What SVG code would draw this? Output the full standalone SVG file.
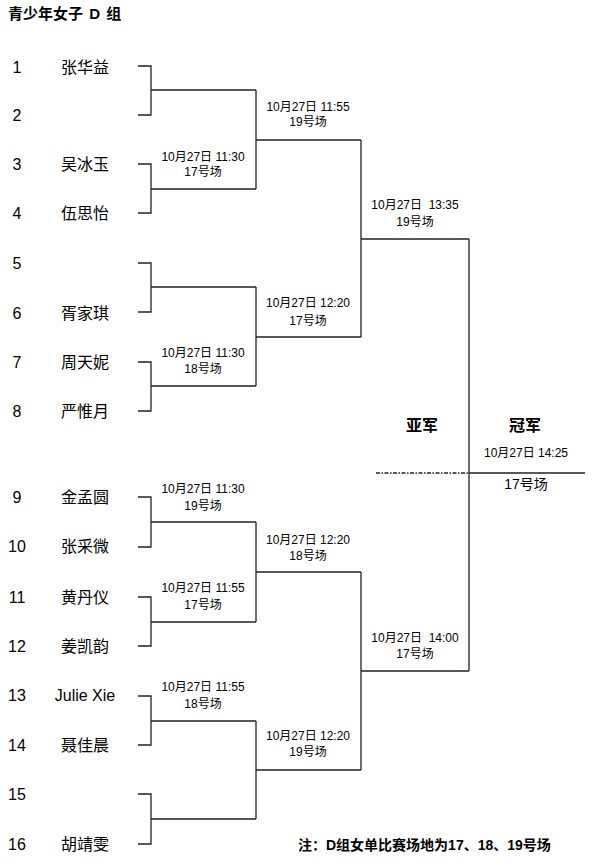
<svg xmlns="http://www.w3.org/2000/svg" width="594" height="867" viewBox="0 0 594 867">
<style>
text{font-family:"Liberation Sans","Noto Sans CJK SC",sans-serif;fill:#000}
.t{font-size:14px;font-weight:bold}
.n{font-size:16px;text-anchor:middle}
.m{font-size:12px;text-anchor:middle;white-space:pre}
.b{font-size:16px;font-weight:bold;text-anchor:middle}
.line{fill:none;stroke:#222;stroke-width:1.3}
.dash{fill:none;stroke:#222;stroke-width:1.3;stroke-dasharray:4 1.5 1.5 1.5}
</style>
<rect width="594" height="867" fill="#fff"/>
<g id="title"><text class="t" x="8" y="19" style="font-size:15px;word-spacing:2px">青少年女子 D 组</text></g>

<g id="connectors">
<path class="line" d="M138,66H151V115H138M151,90H256"/>
<path class="line" d="M138,164H151V213H138M151,189H256"/>
<path class="line" d="M138,263H151V312H138M151,287H256"/>
<path class="line" d="M138,362H151V411H138M151,386H256"/>
<path class="line" d="M138,497H151V547H138M151,522H256"/>
<path class="line" d="M138,597H151V646H138M151,622H256"/>
<path class="line" d="M138,696H151V745H138M151,721H256"/>
<path class="line" d="M138,794H151V844H138M151,819H256"/>
<path class="line" d="M256,90V189M256,140H361"/>
<path class="line" d="M256,287V386M256,337H361"/>
<path class="line" d="M256,522V622M256,572H361"/>
<path class="line" d="M256,721V819M256,770H361"/>
<path class="line" d="M361,140V337M361,239H469"/>
<path class="line" d="M361,572V770M361,671H469"/>
<path class="line" d="M469,239V671M469,473H585"/>
<path class="dash" d="M376,473H469"/>
</g>

<g id="p1"><text class="n" x="17" y="73">1</text><text class="n" x="85" y="73">张华益</text></g>
<g id="p2"><text class="n" x="17" y="121">2</text></g>
<g id="p3"><text class="n" x="17" y="170">3</text><text class="n" x="85" y="170">吴冰玉</text></g>
<g id="p4"><text class="n" x="17" y="219">4</text><text class="n" x="85" y="219">伍思怡</text></g>
<g id="p5"><text class="n" x="17" y="269">5</text></g>
<g id="p6"><text class="n" x="17" y="319">6</text><text class="n" x="85" y="319">胥家琪</text></g>
<g id="p7"><text class="n" x="17" y="368">7</text><text class="n" x="85" y="368">周天妮</text></g>
<g id="p8"><text class="n" x="17" y="417">8</text><text class="n" x="85" y="417">严惟月</text></g>
<g id="p9"><text class="n" x="17" y="503">9</text><text class="n" x="85" y="503">金孟圆</text></g>
<g id="p10"><text class="n" x="17" y="552">10</text><text class="n" x="85" y="552">张采微</text></g>
<g id="p11"><text class="n" x="17" y="603">11</text><text class="n" x="85" y="603">黄丹仪</text></g>
<g id="p12"><text class="n" x="17" y="652">12</text><text class="n" x="85" y="652">姜凯韵</text></g>
<g id="p13"><text class="n" x="17" y="701">13</text><text class="n" x="85" y="701">Julie Xie</text></g>
<g id="p14"><text class="n" x="17" y="751">14</text><text class="n" x="85" y="751">聂佳晨</text></g>
<g id="p15"><text class="n" x="17" y="800">15</text></g>
<g id="p16"><text class="n" x="17" y="850">16</text><text class="n" x="85" y="850">胡靖雯</text></g>

<g id="m1"><text class="m" x="203" y="161">10月27日 11:30</text><text class="m" x="203" y="176">17号场</text></g>
<g id="m2"><text class="m" x="203" y="357">10月27日 11:30</text><text class="m" x="203" y="373">18号场</text></g>
<g id="m3"><text class="m" x="203" y="493">10月27日 11:30</text><text class="m" x="203" y="510">19号场</text></g>
<g id="m4"><text class="m" x="203" y="592">10月27日 11:55</text><text class="m" x="203" y="609">17号场</text></g>
<g id="m5"><text class="m" x="203" y="691">10月27日 11:55</text><text class="m" x="203" y="708">18号场</text></g>

<g id="q1"><text class="m" x="308" y="111">10月27日 11:55</text><text class="m" x="308" y="126">19号场</text></g>
<g id="q2"><text class="m" x="308" y="307">10月27日 12:20</text><text class="m" x="308" y="325">17号场</text></g>
<g id="q3"><text class="m" x="308" y="544">10月27日 12:20</text><text class="m" x="308" y="560">18号场</text></g>
<g id="q4"><text class="m" x="308" y="740">10月27日 12:20</text><text class="m" x="308" y="756">19号场</text></g>

<g id="s1"><text class="m" x="415" y="209">10月27日  13:35</text><text class="m" x="415" y="226">19号场</text></g>
<g id="s2"><text class="m" x="415" y="642">10月27日  14:00</text><text class="m" x="415" y="658">17号场</text></g>

<g id="runnerup"><text class="b" x="422" y="431">亚军</text></g>
<g id="champion"><text class="b" x="525" y="431">冠军</text><text class="m" x="526" y="457">10月27日 14:25</text><text class="m" x="526" y="489" style="font-size:14px">17号场</text></g>

<g id="note"><text class="t" x="298" y="850">注：D组女单比赛场地为17、18、19号场</text></g>
</svg>
